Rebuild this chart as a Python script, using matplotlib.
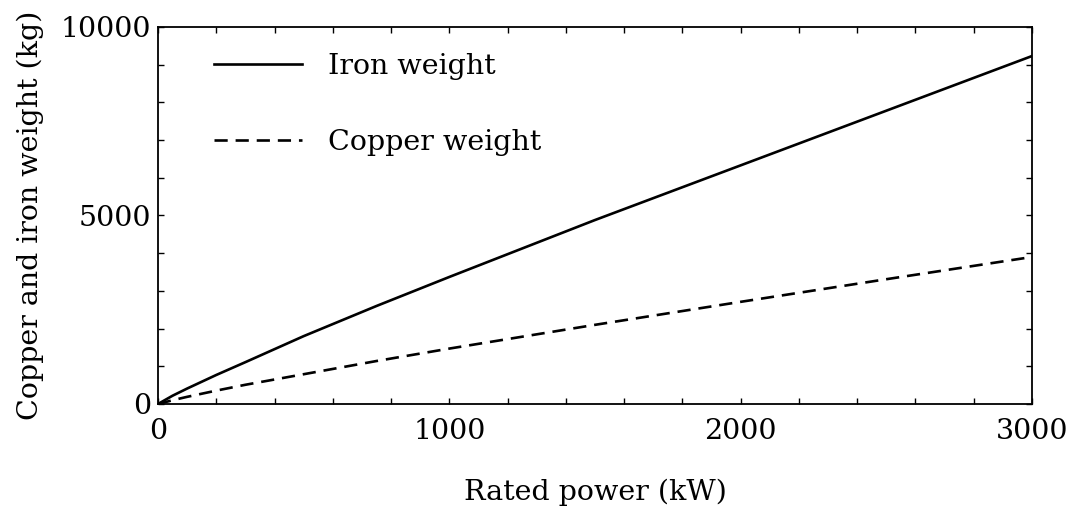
import matplotlib
matplotlib.use("Agg")
import matplotlib.pyplot as plt
from matplotlib.ticker import MultipleLocator

# rated power (kW) and the corresponding weights (kg)
power = [0, 50, 100, 200, 300, 500, 750, 1000, 1500, 2000, 2500, 3000]
iron_weight = [0, 220, 410, 770, 1110, 1800, 2600, 3370, 4880, 6330, 7780, 9230]
copper_weight = [0, 100, 190, 355, 510, 790, 1140, 1470, 2100, 2710, 3310, 3900]

plt.rcParams['font.family'] = ['DejaVu Serif']
plt.rcParams['font.size'] = 20.5

fig = plt.figure(figsize=(10.71, 5.15), dpi=100)
ax = fig.add_axes([158 / 1071, 1 - 404 / 515, (1032 - 158) / 1071, (404 - 27) / 515])

ax.plot(power, iron_weight, color='black', lw=1.9, label='Iron weight')
ax.plot(power, copper_weight, color='black', lw=1.9, dashes=(5, 3), label='Copper weight')

ax.set_xlim(0, 3000)
ax.set_ylim(0, 10000)
ax.xaxis.set_major_locator(MultipleLocator(1000))
ax.xaxis.set_minor_locator(MultipleLocator(200))
ax.yaxis.set_major_locator(MultipleLocator(5000))
ax.yaxis.set_minor_locator(MultipleLocator(1000))
ax.tick_params(which='both', direction='in', top=True, right=True,
               length=4, width=1.0)
ax.tick_params(axis='x', pad=10)
ax.tick_params(axis='y', pad=5)
for s in ax.spines.values():
    s.set_linewidth(1.3)

ax.set_xlabel('Rated power (kW)', labelpad=24)
ax.set_ylabel('Copper and iron weight (kg)', labelpad=12)

ax.legend(loc='upper left', frameon=False, handlelength=3.1, labelspacing=1.75,
          handletextpad=0.9, bbox_to_anchor=(0.035, 1.0))

fig.savefig('out.png', dpi=100)
